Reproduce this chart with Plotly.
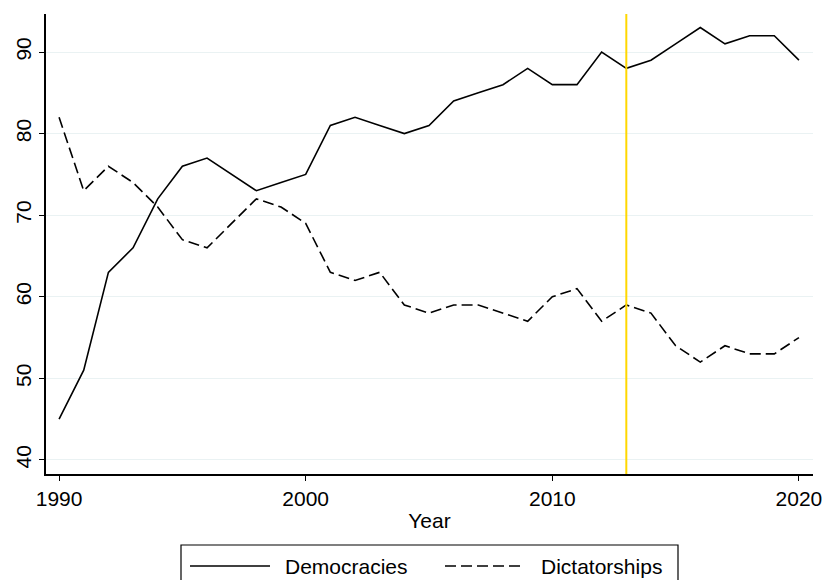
import plotly.graph_objects as go

years = list(range(1990, 2021))
democracies = [45, 51, 63, 66, 72, 76, 77, 75, 73, 74, 75, 81, 82, 81, 80, 81,
               84, 85, 86, 88, 86, 86, 90, 88, 89, 91, 93, 91, 92, 92, 89]
dictatorships = [82, 73, 76, 74, 71, 67, 66, 69, 72, 71, 69, 63, 62, 63, 59, 58,
                 59, 59, 58, 57, 60, 61, 57, 59, 58, 54, 52, 54, 53, 53, 55]
marker_year = 2013
y_ticks = [40, 50, 60, 70, 80, 90]
x_ticks = [1990, 2000, 2010, 2020]

FONT = "Liberation Sans, Arial, Helvetica, sans-serif"
DASH = "11px,5px"

# plot area in pixels (used for the hand-drawn legend box)
W, H = 825, 580
L, R, T, B = 46, 12, 14, 106
pw, ph = W - L - R, H - T - B


def px_x(x):
    return (x - L) / pw


def px_y(y):
    return (H - B - y) / ph


fig = go.Figure()
fig.add_trace(go.Scatter(x=years, y=democracies, mode="lines", name="Democracies",
                         line=dict(color="black", width=1.6)))
fig.add_trace(go.Scatter(x=years, y=dictatorships, mode="lines", name="Dictatorships",
                         line=dict(color="black", width=1.6, dash=DASH)))

fig.add_vline(x=marker_year, line=dict(color="#FFD700", width=2), layer="above")

# legend box drawn as shapes and text
legend_shapes = [
    dict(type="rect", xref="paper", yref="paper",
         x0=px_x(181), x1=px_x(678), y0=px_y(595), y1=px_y(545),
         line=dict(color="black", width=1.2), fillcolor="white"),
    dict(type="line", xref="paper", yref="paper",
         x0=px_x(190), x1=px_x(270), y0=px_y(566), y1=px_y(566),
         line=dict(color="black", width=1.6)),
    dict(type="line", xref="paper", yref="paper",
         x0=px_x(445), x1=px_x(525), y0=px_y(566), y1=px_y(566),
         line=dict(color="black", width=1.6, dash=DASH)),
]
for s in legend_shapes:
    fig.add_shape(**s)

for label, xpos in [("Democracies", 283), ("Dictatorships", 539)]:
    fig.add_annotation(text=label, xref="paper", yref="paper",
                       x=px_x(xpos), y=px_y(566), xanchor="left", yanchor="middle",
                       showarrow=False, font=dict(family=FONT, size=21, color="black"))

fig.update_layout(
    width=W, height=H,
    margin=dict(l=L, r=R, t=T, b=B, autoexpand=False),
    paper_bgcolor="white", plot_bgcolor="white",
    showlegend=False,
    font=dict(family=FONT, size=20, color="black"),
)
fig.update_xaxes(
    range=[1989.47, 2020.57], tickvals=x_ticks, automargin=False,
    showline=True, linecolor="black", linewidth=1.5,
    ticks="outside", ticklen=5, tickcolor="black", tickwidth=1.3,
    showgrid=False, zeroline=False,
    title=dict(text="Year", font=dict(size=21), standoff=4),
    tickfont=dict(size=21),
)
fig.update_yaxes(
    range=[38.28, 94.66], tickvals=y_ticks, automargin=False,
    showline=True, linecolor="black", linewidth=1.5,
    ticks="outside", ticklen=5, tickcolor="black", tickwidth=1.3,
    showgrid=True, gridcolor="#EAF2F3", gridwidth=1.3, zeroline=False,
    tickangle=-90, tickfont=dict(size=21),
)

fig.write_html("out.html")
